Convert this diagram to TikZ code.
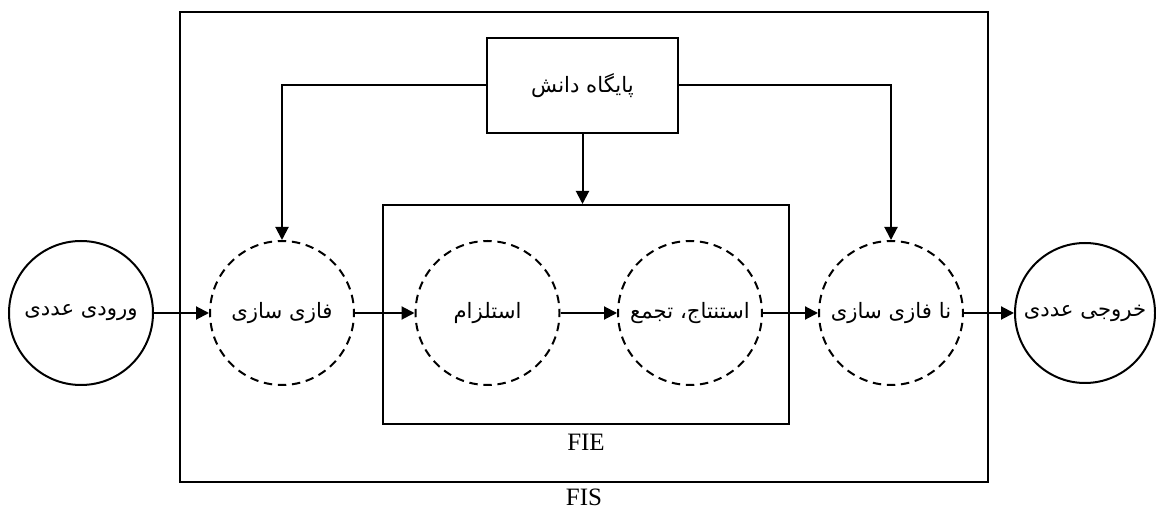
\documentclass[tikz,border=0pt]{standalone}
\usepackage{fontspec}
\setmainfont{Liberation Serif}
\newfontfamily\fa[Script=Arabic]{DejaVu Sans}
\TeXXeTstate=1
\usetikzlibrary{arrows.meta}
\begin{document}
\begin{tikzpicture}[x=0.5pt,y=-0.5pt,
  every node/.style={inner sep=0pt},
  boxnode/.style={draw, line width=1pt, rectangle},
  fatext/.style={font=\fa\fontsize{10.6}{12}\selectfont},
  latext/.style={font=\fontsize{12.5}{14}\selectfont},
  softc/.style={circle, draw, line width=1pt, minimum size=72pt,
     dash pattern=on 4.2pt off 2.87pt, dash phase=2.1pt},
  hardc/.style={circle, draw, line width=1pt, minimum size=72pt},
  arr/.style={-{Triangle[length=6.5pt,width=6.5pt]}, line width=1pt}
]
\useasboundingbox (0,0) rectangle (1156,512);
\fill[white] (0,0) rectangle (1156,512);
% frames
\node[boxnode, minimum width=404pt, minimum height=235pt] (fis) at (584,247) {};
\node[latext] (fislbl) at (584,497) {FIS};
\node[boxnode, minimum width=203pt, minimum height=109.5pt] (fie) at (586,314.5) {};
\node[latext] (fielbl) at (586,442) {FIE};
\node[boxnode, fatext, minimum width=95.5pt, minimum height=47.5pt] (kb) at (582.5,85.5) {\beginR پایگاه دانش\endR};
% circles
\node[hardc, fatext] (in) at (81,313) {\beginR ورودی عددی\endR};
\node[softc, fatext] (fuzz) at (282,313) {\beginR فازی سازی\endR};
\node[softc, fatext] (inf) at (487.5,313) {\beginR استلزام\endR};
\node[softc, fatext] (agg) at (690,313) {\beginR استنتاج، تجمع\endR};
\node[softc, fatext] (defz) at (891,313) {\beginR نا فازی سازی\endR};
\node[hardc, fatext, minimum size=70pt] (out) at (1085,313) {\beginR خروجی عددی\endR};
% connectors
\draw[arr] (in.east) -- (fuzz.west);
\draw[arr] (fuzz.east) -- (inf.west);
\draw[arr] (inf.east) -- (agg.west);
\draw[arr] (agg.east) -- (defz.west);
\draw[arr] (defz.east) -- (out.west);
\draw[arr] (kb.west) -| (fuzz.north);
\draw[arr] (kb.east) -| (defz.north);
\draw[arr] (kb.south) -- (kb.south |- fie.north);
\end{tikzpicture}
\end{document}
